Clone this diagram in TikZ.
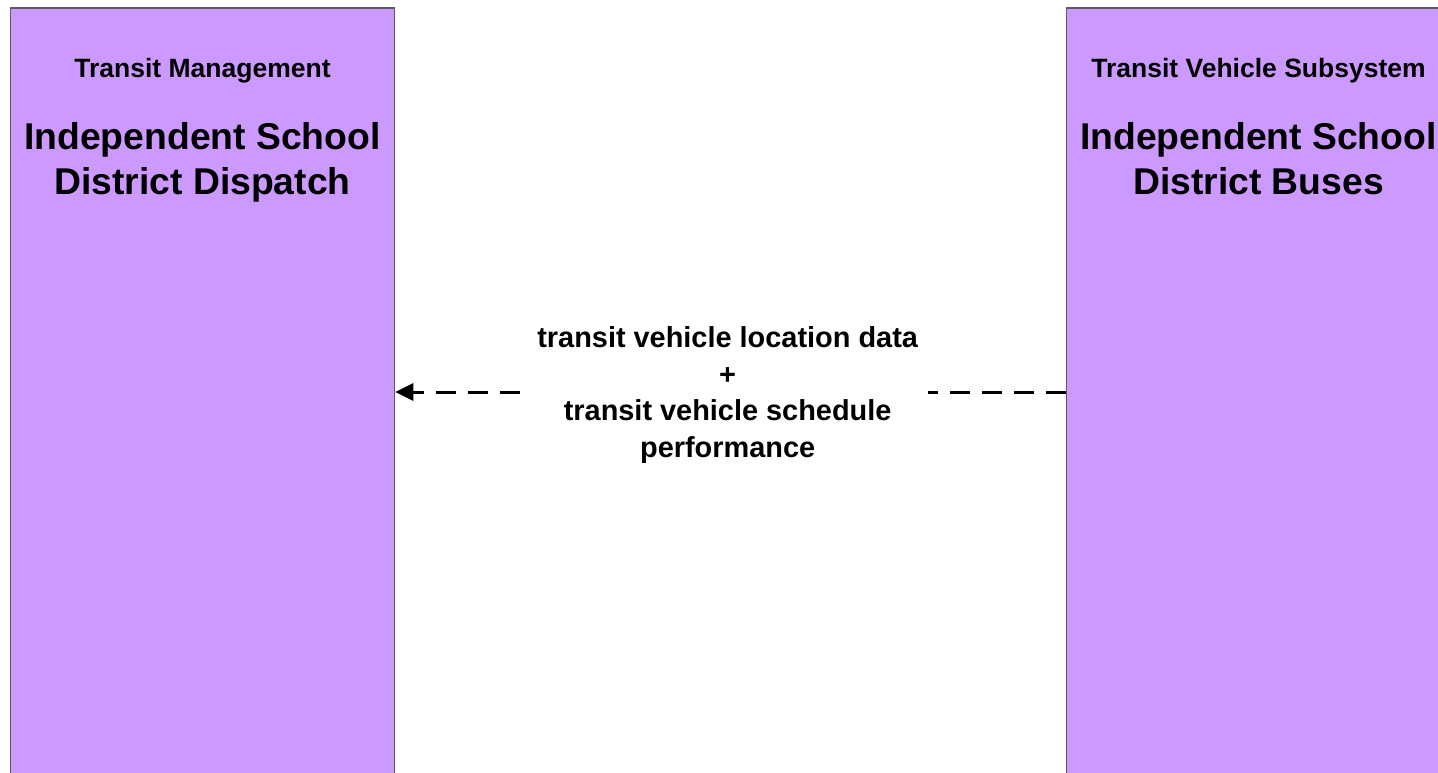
\documentclass[tikz,border=0pt]{standalone}
\usepackage{fontspec}
\setmainfont{Liberation Sans}
\usetikzlibrary{arrows.meta}
\definecolor{boxfill}{HTML}{CC99FF}
\definecolor{boxline}{HTML}{5A5A6A}
\tikzset{
  sysbox/.style={draw=boxline, fill=boxfill, line width=1.3pt, minimum width=384.5pt, minimum height=820pt, anchor=north west, inner sep=0pt},
  smalltitle/.style={font=\fontsize{26.5pt}{30pt}\selectfont\bfseries, anchor=base, inner sep=0pt},
  bigtitle/.style={font=\fontsize{37.3pt}{44.4pt}\selectfont\bfseries, align=center, anchor=north, inner sep=0pt},
  flow/.style={line width=3pt, dash pattern=on 20pt off 12.1pt, -{Triangle[length=18pt,width=17pt]}},
  lbl/.style={fill=white, font=\fontsize{28.9pt}{36.7pt}\selectfont\bfseries, align=center, inner xsep=10pt, inner ysep=3pt}
}
\begin{document}
\begin{tikzpicture}[x=1pt,y=-1pt]
\useasboundingbox (0,0) rectangle (1438,773);
\clip (0,0) rectangle (1438,773);
\node[sysbox] (L) at (9.5,7.5) {};
\node[sysbox] (R) at (1066,7.5) {};
\node[smalltitle] (Lt) at (202.5,77.5) {Transit Management};
\node[smalltitle] (Rt) at (1258.5,77.5) {Transit Vehicle Subsystem};
\node[bigtitle] (Ln) at (202.5,122.5) {Independent School\\District Dispatch};
\node[bigtitle] (Rn) at (1258.5,122.5) {Independent School\\District Buses};
\coordinate (ay) at (0,392);
\draw[flow] (R.west |- ay) -- (L.east |- ay)
  node[midway, lbl, xshift=-3pt, yshift=-3pt] (lab) {transit vehicle location data\\+\\transit vehicle schedule\\performance};
\end{tikzpicture}
\end{document}
